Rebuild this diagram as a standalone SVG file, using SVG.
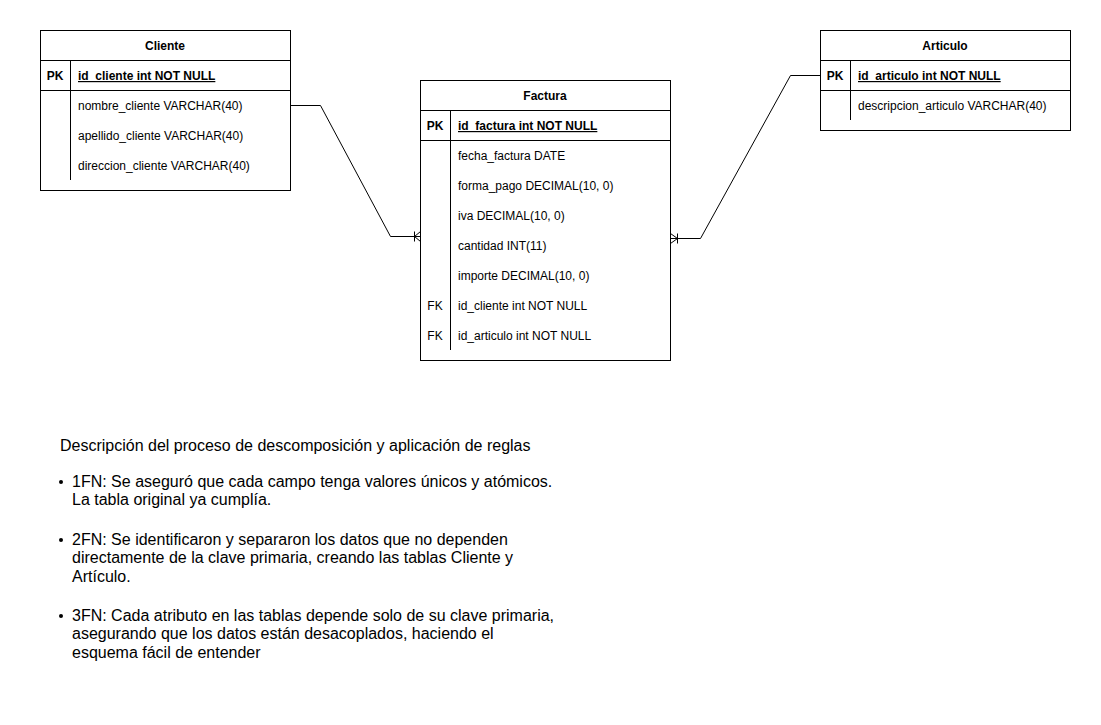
<svg xmlns="http://www.w3.org/2000/svg" width="1101" height="725" viewBox="0 0 1101 725">
<style>
.box{fill:#fff;stroke:#000;stroke-width:1}
.ln{stroke:#000;stroke-width:1;fill:none}
.t{font-family:"Liberation Sans",Arial,sans-serif;font-size:12px;fill:#000}
.b{font-weight:bold}
.u{text-decoration:underline}
.c{text-anchor:middle}
.d{font-family:"Liberation Sans",Arial,sans-serif;font-size:16px;fill:#000}
</style>
<rect width="1101" height="725" fill="#fff"/>
<g id="cliente">
<rect class="box" x="40.5" y="30.5" width="250" height="160"/>
<line class="ln" x1="40.5" y1="60.5" x2="290.5" y2="60.5"/>
<line class="ln" x1="40.5" y1="90.5" x2="290.5" y2="90.5"/>
<line class="ln" x1="70.5" y1="60.5" x2="70.5" y2="180"/>
<text class="t b c" x="165" y="50">Cliente</text>
<text class="t b c" x="55" y="80">PK</text>
<text class="t b u" x="78" y="80">id_cliente int NOT NULL</text>
<text class="t" x="78" y="110">nombre_cliente VARCHAR(40)</text>
<text class="t" x="78" y="140">apellido_cliente VARCHAR(40)</text>
<text class="t" x="78" y="170">direccion_cliente VARCHAR(40)</text>
</g>
<g id="factura">
<rect class="box" x="420.5" y="80.5" width="250" height="280"/>
<line class="ln" x1="420.5" y1="110.5" x2="670.5" y2="110.5"/>
<line class="ln" x1="420.5" y1="140.5" x2="670.5" y2="140.5"/>
<line class="ln" x1="450.5" y1="110.5" x2="450.5" y2="350"/>
<text class="t b c" x="545" y="100">Factura</text>
<text class="t b c" x="435" y="130">PK</text>
<text class="t b u" x="458" y="130">id_factura int NOT NULL</text>
<text class="t" x="458" y="160">fecha_factura DATE</text>
<text class="t" x="458" y="190">forma_pago DECIMAL(10, 0)</text>
<text class="t" x="458" y="220">iva DECIMAL(10, 0)</text>
<text class="t" x="458" y="250">cantidad INT(11)</text>
<text class="t" x="458" y="280">importe DECIMAL(10, 0)</text>
<text class="t c" x="435" y="310">FK</text>
<text class="t" x="458" y="310">id_cliente int NOT NULL</text>
<text class="t c" x="435" y="340">FK</text>
<text class="t" x="458" y="340">id_articulo int NOT NULL</text>
</g>
<g id="articulo">
<rect class="box" x="820.5" y="30.5" width="250" height="100"/>
<line class="ln" x1="820.5" y1="60.5" x2="1070.5" y2="60.5"/>
<line class="ln" x1="820.5" y1="90.5" x2="1070.5" y2="90.5"/>
<line class="ln" x1="850.5" y1="60.5" x2="850.5" y2="120"/>
<text class="t b c" x="945" y="50">Articulo</text>
<text class="t b c" x="835" y="80">PK</text>
<text class="t b u" x="858" y="80">id_articulo int NOT NULL</text>
<text class="t" x="858" y="110">descripcion_articulo VARCHAR(40)</text>
</g>
<g id="connectors">
<polyline class="ln" points="290.5,105.5 320.5,105.5 390.5,236.5 420.5,236.5"/>
<line class="ln" x1="414.5" y1="231.5" x2="414.5" y2="241.5"/>
<polyline class="ln" points="420.5,231.5 414.5,236.5 420.5,241.5"/>
<polyline class="ln" points="820.5,75.5 790.5,75.5 700.5,238.5 670.5,238.5"/>
<line class="ln" x1="677.5" y1="233.5" x2="677.5" y2="243.5"/>
<polyline class="ln" points="670.5,233.5 677.5,238.5 670.5,243.5"/>
</g>
<g id="description">
<text class="d" x="60" y="451">Descripción del proceso de descomposición y aplicación de reglas</text>
<circle cx="61" cy="482" r="2" fill="#000"/>
<text class="d" x="72" y="487">1FN: Se aseguró que cada campo tenga valores únicos y atómicos.</text>
<text class="d" x="72" y="505">La tabla original ya cumplía.</text>
<circle cx="61" cy="540" r="2" fill="#000"/>
<text class="d" x="72" y="545">2FN: Se identificaron y separaron los datos que no dependen</text>
<text class="d" x="72" y="563">directamente de la clave primaria, creando las tablas Cliente y</text>
<text class="d" x="72" y="582">Artículo.</text>
<circle cx="61" cy="616" r="2" fill="#000"/>
<text class="d" x="72" y="621">3FN: Cada atributo en las tablas depende solo de su clave primaria,</text>
<text class="d" x="72" y="639">asegurando que los datos están desacoplados, haciendo el</text>
<text class="d" x="72" y="658">esquema fácil de entender</text>
</g>
</svg>
